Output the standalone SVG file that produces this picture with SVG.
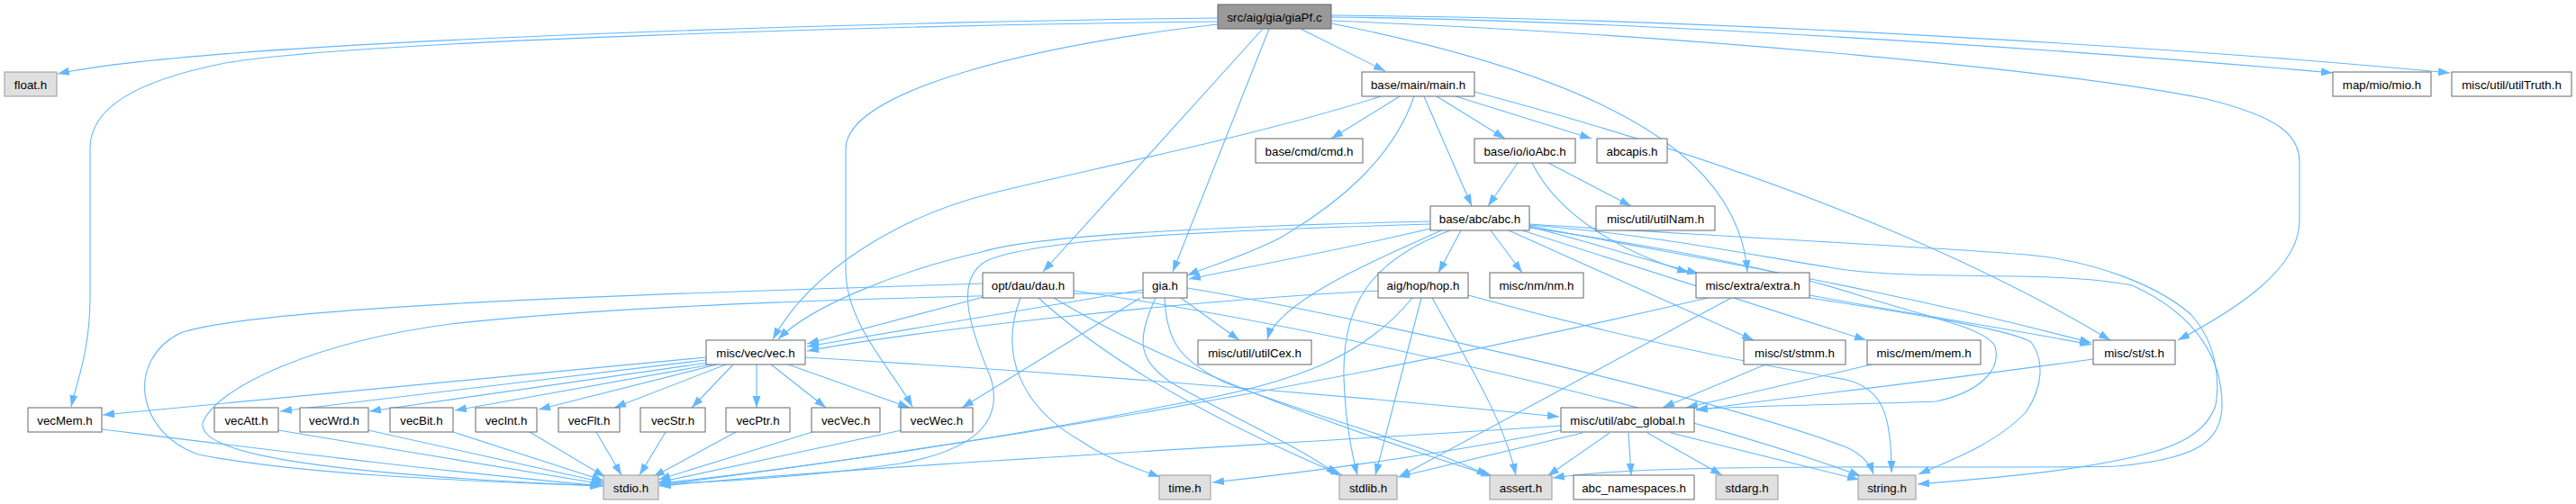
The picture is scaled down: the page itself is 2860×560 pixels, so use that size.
<svg xmlns="http://www.w3.org/2000/svg" width="2860" height="560" viewBox="0 0 2860 560">
<style>
.n rect{fill:#ffffff;stroke:#666666;stroke-width:1}
.g rect{fill:#e0e0e0;stroke:#999999;stroke-width:1}
.r rect{fill:#999999;stroke:#666666;stroke-width:1}
text{font-family:"Liberation Sans",Arial,sans-serif;font-size:13.33px;text-anchor:middle;fill:#000}
#edges path{fill:none;stroke:#63b8ff;stroke-width:1.1;marker-end:url(#a)}
</style>
<defs>
<marker id="a" markerWidth="14" markerHeight="10" refX="13" refY="5" orient="auto" markerUnits="userSpaceOnUse">
<path d="M0,0.5 L13,5 L0,9.5 z" fill="#63b8ff" stroke="none"/>
</marker>
</defs>
<rect x="0" y="0" width="2860" height="560" fill="#ffffff"/>
<g id="edges">
<path d="M1352,20 C1100,22 250,42 64,82"/>
<path d="M1352,24 C1000,28 400,45 250,70 C150,90 100,120 100,165 L100,330 C100,390 85,425 79,452"/>
<path d="M1444,32 L1538,79"/>
<path d="M1402,32 L1158,302"/>
<path d="M1409,32 L1302,302"/>
<path d="M1352,27 C1150,50 940,100 939,165 L939,300 C939,360 990,410 1013,452"/>
<path d="M1478,26 C1800,90 1930,180 1940,302"/>
<path d="M1478,23 C1900,40 2300,80 2450,110 C2530,130 2553,150 2553,180 L2553,245 C2553,300 2480,345 2418,378"/>
<path d="M1478,19 C1800,22 2300,55 2590,81"/>
<path d="M1478,17 C1900,20 2450,55 2720,81"/>
<path d="M1554,107 L1478,154"/>
<path d="M1533,107 C1400,150 1200,190 1100,215 C1000,240 900,300 858,377"/>
<path d="M1570,107 C1545,180 1480,230 1420,265 C1380,285 1345,295 1318,306"/>
<path d="M1581,107 L1634,229"/>
<path d="M1595,107 L1671,154"/>
<path d="M1616,107 L1767,154"/>
<path d="M1637,102 C1900,172 2150,262 2343,378"/>
<path d="M1685,181 L1652,229"/>
<path d="M1719,181 L1811,229"/>
<path d="M1701,181 C1730,240 1800,280 1875,303"/>
<path d="M1588,254 C1500,275 1420,290 1320,310"/>
<path d="M1588,246 C1400,250 1150,260 1090,280 C1000,300 900,340 864,377"/>
<path d="M1588,249 C1350,256 1150,265 1095,290 C1060,310 1075,360 1100,420 C1115,470 1080,500 1000,515 C900,530 800,535 732,538"/>
<path d="M1600,256 C1560,275 1420,330 1407,377"/>
<path d="M1610,256 C1520,290 1490,340 1492,420 C1494,470 1500,500 1507,528"/>
<path d="M1622,256 L1597,303"/>
<path d="M1655,256 L1690,303"/>
<path d="M1675,256 L1947,378"/>
<path d="M1690,256 L2072,378"/>
<path d="M1698,252 C1770,270 1830,290 1886,304"/>
<path d="M1698,251 C1900,290 2100,322 2322,381"/>
<path d="M1698,253 C1850,275 1980,300 2070,330 C2150,355 2205,365 2215,385 C2222,410 2200,435 2150,446 C2050,450 1950,450 1883,455"/>
<path d="M1698,250 C1850,262 1950,285 2050,300 C2150,312 2280,300 2367,317 C2440,350 2467,400 2467,450 C2467,490 2440,510 2350,518 C2200,522 1850,512 1724,531"/>
<path d="M1698,249 C1900,262 2150,275 2250,283 C2330,290 2400,320 2433,350 C2460,380 2465,420 2460,450 C2450,480 2420,495 2380,505 C2300,525 2200,532 2129,538"/>
<path d="M1269,322 L896,385"/>
<path d="M1266,331 L1068,453"/>
<path d="M1311,331 L1376,378"/>
<path d="M1269,325 C1000,330 700,338 500,360 C350,380 240,430 225,470 C220,500 320,525 668,540"/>
<path d="M1283,331 C1260,380 1265,400 1300,425 C1380,470 1450,500 1485,528"/>
<path d="M1293,331 C1295,380 1310,400 1360,425 C1480,470 1600,500 1652,529"/>
<path d="M1318,320 C1500,350 1900,440 2050,497 C2068,505 2076,515 2080,527"/>
<path d="M1092,330 L896,382"/>
<path d="M1091,315 C900,322 300,335 200,370 C140,400 150,480 220,505 C350,530 550,535 668,540"/>
<path d="M1133,331 C1110,390 1130,450 1200,490 C1230,510 1260,520 1288,530"/>
<path d="M1153,331 C1250,420 1400,490 1490,528"/>
<path d="M1170,331 C1300,410 1500,480 1657,529"/>
<path d="M1192,323 C1450,360 1850,450 2066,529"/>
<path d="M1531,323 C1300,335 1000,370 896,390"/>
<path d="M1568,331 C1520,390 1450,425 1300,450 C1100,490 850,525 732,537"/>
<path d="M1578,331 L1527,528"/>
<path d="M1590,331 C1640,420 1670,470 1683,528"/>
<path d="M1630,328 C1800,375 1950,405 2050,422 C2090,432 2100,460 2100,525"/>
<path d="M1896,331 C1600,400 1200,480 732,539"/>
<path d="M1922,331 L1553,530"/>
<path d="M2009,328 C2100,345 2200,360 2322,383"/>
<path d="M2009,331 C2100,345 2230,365 2255,380 C2270,400 2268,430 2250,457 C2220,490 2170,510 2130,527"/>
<path d="M2324,399 C2100,430 1950,445 1883,456"/>
<path d="M2078,405 L1872,453"/>
<path d="M1960,405 L1846,453"/>
<path d="M894,397 C1200,415 1500,440 1731,463"/>
<path d="M1733,473 C1400,495 1000,515 732,540"/>
<path d="M1733,478 C1600,505 1450,525 1346,536"/>
<path d="M1757,481 L1552,530"/>
<path d="M1787,481 L1718,529"/>
<path d="M1808,481 L1811,528"/>
<path d="M1829,481 L1912,528"/>
<path d="M1855,481 L2064,533"/>
<path d="M784,397 L114,461"/>
<path d="M784,400 L311,457"/>
<path d="M786,403 L410,457"/>
<path d="M790,405 L505,456"/>
<path d="M796,405 L598,455"/>
<path d="M806,405 L682,453"/>
<path d="M814,405 L768,453"/>
<path d="M840,405 L840,453"/>
<path d="M856,405 L917,453"/>
<path d="M875,405 L1010,453"/>
<path d="M113,477 C300,500 500,525 670,540"/>
<path d="M309,478 L670,538"/>
<path d="M409,478 L670,536"/>
<path d="M503,480 L670,534"/>
<path d="M588,480 L672,530"/>
<path d="M662,480 L690,528"/>
<path d="M739,480 L710,528"/>
<path d="M817,480 L725,530"/>
<path d="M902,480 L731,533"/>
<path d="M1001,478 L731,536"/>
</g>
<g id="giaPf" class="r"><rect x="1352" y="5" width="126" height="27"/><text x="1415" y="23.5">src/aig/gia/giaPf.c</text></g>
<g id="float" class="g"><rect x="5" y="80" width="58" height="27"/><text x="34" y="98.5">float.h</text></g>
<g id="main" class="n"><rect x="1512" y="80" width="125" height="27"/><text x="1574.5" y="98.5">base/main/main.h</text></g>
<g id="mio" class="n"><rect x="2590" y="80" width="109" height="27"/><text x="2644.5" y="98.5">map/mio/mio.h</text></g>
<g id="utilTruth" class="n"><rect x="2722" y="80" width="133" height="27"/><text x="2788.5" y="98.5">misc/util/utilTruth.h</text></g>
<g id="cmd" class="n"><rect x="1394" y="154" width="119" height="27"/><text x="1453.5" y="172.5">base/cmd/cmd.h</text></g>
<g id="ioAbc" class="n"><rect x="1637" y="154" width="112" height="27"/><text x="1693" y="172.5">base/io/ioAbc.h</text></g>
<g id="abcapis" class="n"><rect x="1773" y="154" width="78" height="27"/><text x="1812" y="172.5">abcapis.h</text></g>
<g id="abc" class="n"><rect x="1588" y="229" width="110" height="27"/><text x="1643" y="247.5">base/abc/abc.h</text></g>
<g id="utilNam" class="n"><rect x="1772" y="229" width="132" height="27"/><text x="1838" y="247.5">misc/util/utilNam.h</text></g>
<g id="dau" class="n"><rect x="1091" y="303" width="101" height="28"/><text x="1141.5" y="322">opt/dau/dau.h</text></g>
<g id="gia" class="n"><rect x="1269" y="303" width="49" height="28"/><text x="1293.5" y="322">gia.h</text></g>
<g id="hop" class="n"><rect x="1530" y="303" width="100" height="28"/><text x="1580" y="322">aig/hop/hop.h</text></g>
<g id="nm" class="n"><rect x="1654" y="303" width="104" height="28"/><text x="1706" y="322">misc/nm/nm.h</text></g>
<g id="extra" class="n"><rect x="1883" y="303" width="126" height="28"/><text x="1946" y="322">misc/extra/extra.h</text></g>
<g id="vec" class="n"><rect x="784" y="378" width="110" height="27"/><text x="839" y="396.5">misc/vec/vec.h</text></g>
<g id="utilCex" class="n"><rect x="1330" y="378" width="126" height="27"/><text x="1393" y="396.5">misc/util/utilCex.h</text></g>
<g id="stmm" class="n"><rect x="1936" y="378" width="113" height="27"/><text x="1992.5" y="396.5">misc/st/stmm.h</text></g>
<g id="mem" class="n"><rect x="2073" y="378" width="126" height="27"/><text x="2136" y="396.5">misc/mem/mem.h</text></g>
<g id="st" class="n"><rect x="2324" y="378" width="91" height="27"/><text x="2369.5" y="396.5">misc/st/st.h</text></g>
<g id="vecMem" class="n"><rect x="31" y="453" width="82" height="27"/><text x="72" y="471.5">vecMem.h</text></g>
<g id="vecAtt" class="n"><rect x="238" y="453" width="71" height="27"/><text x="273.5" y="471.5">vecAtt.h</text></g>
<g id="vecWrd" class="n"><rect x="333" y="453" width="76" height="27"/><text x="371" y="471.5">vecWrd.h</text></g>
<g id="vecBit" class="n"><rect x="433" y="453" width="70" height="27"/><text x="468" y="471.5">vecBit.h</text></g>
<g id="vecInt" class="n"><rect x="528" y="453" width="68" height="27"/><text x="562" y="471.5">vecInt.h</text></g>
<g id="vecFlt" class="n"><rect x="620" y="453" width="68" height="27"/><text x="654" y="471.5">vecFlt.h</text></g>
<g id="vecStr" class="n"><rect x="711" y="453" width="72" height="27"/><text x="747" y="471.5">vecStr.h</text></g>
<g id="vecPtr" class="n"><rect x="806" y="453" width="71" height="27"/><text x="841.5" y="471.5">vecPtr.h</text></g>
<g id="vecVec" class="n"><rect x="901" y="453" width="76" height="27"/><text x="939" y="471.5">vecVec.h</text></g>
<g id="vecWec" class="n"><rect x="1000" y="453" width="80" height="27"/><text x="1040" y="471.5">vecWec.h</text></g>
<g id="abc_global" class="n"><rect x="1733" y="453" width="148" height="27"/><text x="1807" y="471.5">misc/util/abc_global.h</text></g>
<g id="stdio" class="g"><rect x="670" y="528" width="61" height="27"/><text x="700.5" y="546.5">stdio.h</text></g>
<g id="time" class="g"><rect x="1287" y="528" width="57" height="27"/><text x="1315.5" y="546.5">time.h</text></g>
<g id="stdlib" class="g"><rect x="1487" y="528" width="64" height="27"/><text x="1519" y="546.5">stdlib.h</text></g>
<g id="assert" class="g"><rect x="1654" y="528" width="69" height="27"/><text x="1688.5" y="546.5">assert.h</text></g>
<g id="abc_namespaces" class="n"><rect x="1747" y="528" width="134" height="27"/><text x="1814" y="546.5">abc_namespaces.h</text></g>
<g id="stdarg" class="g"><rect x="1905" y="528" width="69" height="27"/><text x="1939.5" y="546.5">stdarg.h</text></g>
<g id="string" class="g"><rect x="2063" y="528" width="64" height="27"/><text x="2095" y="546.5">string.h</text></g>
</svg>
